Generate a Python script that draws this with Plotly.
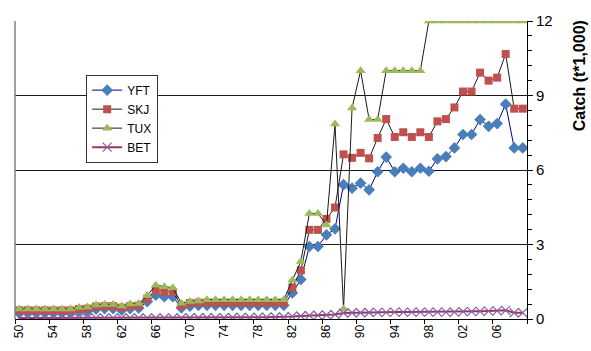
import plotly.graph_objects as go

# Catch by species, 1950-2009 (thousand tonnes)
years = list(range(1950, 2010))

yft = [0.28, 0.28, 0.28, 0.28, 0.28, 0.28, 0.28, 0.32, 0.32, 0.40,
       0.42, 0.42, 0.36, 0.42, 0.44, 0.70, 0.96, 0.90, 0.90, 0.45,
       0.52, 0.55, 0.55, 0.55, 0.55, 0.55, 0.55, 0.55, 0.55, 0.55,
       0.55, 0.55, 1.05, 1.59, 2.92, 2.92, 3.39, 3.63, 5.41, 5.27,
       5.47, 5.20, 5.93, 6.52, 5.93, 6.07, 5.93, 6.07, 5.95, 6.45,
       6.54, 6.89, 7.43, 7.43, 8.03, 7.76, 7.87, 8.65, 6.89, 6.89]

skj = [0.35, 0.35, 0.35, 0.35, 0.35, 0.35, 0.35, 0.40, 0.42, 0.50,
       0.52, 0.52, 0.46, 0.52, 0.54, 0.82, 1.16, 1.10, 1.08, 0.54,
       0.64, 0.66, 0.66, 0.66, 0.66, 0.66, 0.66, 0.66, 0.66, 0.66,
       0.66, 0.66, 1.27, 1.96, 3.59, 3.59, 4.03, 4.49, 6.63, 6.49,
       6.69, 6.47, 7.29, 8.05, 7.33, 7.52, 7.33, 7.52, 7.33, 7.96,
       8.05, 8.52, 9.16, 9.16, 9.92, 9.60, 9.72, 10.67, 8.47, 8.47]

tux = [0.40, 0.40, 0.40, 0.40, 0.40, 0.40, 0.40, 0.46, 0.48, 0.56,
       0.58, 0.58, 0.52, 0.60, 0.62, 0.95, 1.36, 1.30, 1.26, 0.63,
       0.70, 0.72, 0.78, 0.78, 0.78, 0.78, 0.78, 0.78, 0.78, 0.78,
       0.78, 0.78, 1.56, 2.32, 4.25, 4.25, 3.79, 7.85, 0.40, 8.50,
       10.0, 8.03, 8.03, 10.0, 10.0, 10.0, 10.0, 10.0, 12.0, 12.0,
       12.0, 12.0, 12.0, 12.0, 12.0, 12.0, 12.0, 12.0, 12.0, 12.0]

bet = [0.04, 0.04, 0.04, 0.04, 0.04, 0.04, 0.04, 0.04, 0.04, 0.04,
       0.04, 0.04, 0.04, 0.04, 0.04, 0.04, 0.04, 0.04, 0.04, 0.04,
       0.05, 0.05, 0.05, 0.05, 0.05, 0.06, 0.06, 0.06, 0.07, 0.07,
       0.08, 0.08, 0.10, 0.12, 0.14, 0.15, 0.16, 0.18, 0.24, 0.25,
       0.25, 0.26, 0.27, 0.27, 0.28, 0.28, 0.28, 0.28, 0.28, 0.28,
       0.28, 0.28, 0.30, 0.30, 0.31, 0.32, 0.33, 0.35, 0.25, 0.25]

x_tick_years = [1950, 1954, 1958, 1962, 1966, 1970, 1974, 1978,
                1982, 1986, 1990, 1994, 1998, 2002, 2006]
x_tick_text = ["50", "54", "58", "62", "66", "70", "74", "78",
               "82", "86", "90", "94", "98", "02", "06"]
y_tick_vals = [0, 3, 6, 9, 12]

FONT = "Liberation Sans, Arial, sans-serif"

series = [
    ("YFT", yft, "#000080", "#4A7EBB", "diamond", 9, 1),
    ("SKJ", skj, "#1a1a1a", "#C0504D", "square", 8, 1),
    ("TUX", tux, "#1a1a1a", "#9BBB59", "triangle-up", 9, 1),
]

fig = go.Figure()
for name, vals, lcol, mcol, sym, size, lw in series:
    fig.add_trace(go.Scatter(
        x=years, y=vals, name=name, mode="lines+markers",
        line=dict(color=lcol, width=lw),
        marker=dict(symbol=sym, size=size, color=mcol, line=dict(width=0)),
    ))

fig.add_trace(go.Scatter(
    x=years, y=bet, name="BET", mode="lines+markers",
    line=dict(color="#A0306A", width=2),
    marker=dict(symbol="x-thin-open", size=9, color="#8064A2",
                line=dict(color="#8064A2", width=1.2)),
))

# left border of the plot area
fig.add_shape(type="line", xref="paper", yref="paper", x0=0, x1=0, y0=0, y1=1,
              line=dict(color="#808080", width=1.5))

fig.add_annotation(
    text="<b>Catch (t*1,000)</b>", textangle=-90,
    xref="paper", yref="paper", x=1.103, y=0.817,
    xanchor="center", yanchor="middle", showarrow=False,
    font=dict(family=FONT, size=16, color="black"),
)

fig.update_layout(
    width=591, height=351,
    margin=dict(l=12, r=64, t=19, b=32),
    paper_bgcolor="white", plot_bgcolor="white",
    font=dict(family=FONT, color="black"),
    showlegend=True,
    legend=dict(
        x=0.139, y=0.82, xanchor="left", yanchor="top",
        bgcolor="white", bordercolor="#333333", borderwidth=1,
        font=dict(family=FONT, size=12, color="black"),
        tracegroupgap=0, itemwidth=30,
    ),
    xaxis=dict(
        range=[1949.5, 2009.5],
        tickmode="array", tickvals=x_tick_years, ticktext=x_tick_text,
        tickangle=-90, tickfont=dict(size=12, family=FONT),
        ticks="", showgrid=False, zeroline=False,
        showline=True, linecolor="black", linewidth=1,
        minor=dict(tickmode="array",
                   tickvals=[1949.5 + 4 * k for k in range(16)],
                   ticks="outside", ticklen=4, tickcolor="black", showgrid=False),
    ),
    yaxis=dict(
        side="right", range=[0, 12],
        tickmode="array", tickvals=y_tick_vals,
        tickfont=dict(size=15, family=FONT),
        ticks="outside", ticklen=5, tickcolor="black",
        showgrid=True, gridcolor="#1a1a1a", gridwidth=1,
        zeroline=False, showline=True, linecolor="black", linewidth=1,
        minor=dict(tickmode="array",
                   tickvals=[0.6 * k for k in range(21)],
                   ticks="outside", ticklen=4,
                   tickcolor="black", showgrid=False),
    ),
)

fig.write_html("out.html")
